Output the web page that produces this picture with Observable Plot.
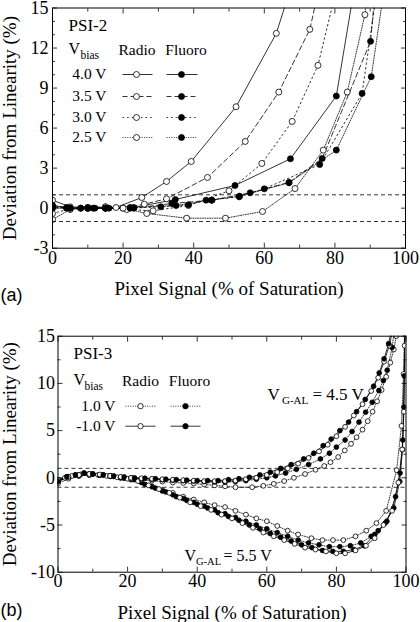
<!DOCTYPE html>
<html><head><meta charset="utf-8">
<script src="https://cdn.jsdelivr.net/npm/d3@7"></script>
<script src="https://cdn.jsdelivr.net/npm/@observablehq/plot@0.6"></script>
<style>
body{margin:0;background:#fff;}
#chart{width:420px;height:622px;position:relative;background:#fff;}
#chart svg{display:block;}
</style></head><body><div id="chart"></div>
<script>
// ---------------- Panel (a): PSI-2 ----------------
const psi2Radio40 = [[0,0.6],[5,0.1],[10,0.05],[15,0.0],[18,0.05],[25.3,0.8],[32.3,2.0],[39.3,3.5],[52,7.6],[63.4,13.1],[67.5,16.5]];
const psi2Radio35 = [[0,0.2],[5,0.0],[10,0.0],[15,0.05],[20,0.0],[26,0.3],[32.3,0.7],[43.9,2.3],[54.6,5.0],[64.1,8.7],[72.9,13.4],[75.5,16.5]];
const psi2Radio30 = [[0,-0.4],[5,-0.05],[10,0.05],[15,0.1],[21,-0.1],[28.5,-0.2],[38.5,0.2],[50,1.3],[59.3,3.35],[67.9,6.5],[75.2,10.7],[80.5,16.5]];
const psi2Radio25 = [[0,-0.85],[5,-0.1],[10,0.0],[15,0.1],[20,0.0],[26.7,-0.4],[38,-0.75],[49,-0.75],[59.5,-0.25],[68.7,1.47],[76.7,4.35],[83.5,8.7],[88.5,14.5],[89.5,16.5]];
const psi2Fluoro40 = [[0,0.2],[4,0.05],[8,0.0],[11.5,0.0],[15,0.0],[23,0.05],[34.8,0.65],[51.7,1.7],[67.4,3.7],[80.4,8.4],[85.5,16.5]];
const psi2Fluoro35 = [[0,0.1],[4,0.0],[8,0.0],[12,0.0],[16,0.0],[23,0.0],[33.8,0.35],[45.2,0.6],[56,1.15],[67,1.93],[76.4,3.72],[90.1,12.5],[91.5,16.5]];
const psi2Fluoro30 = [[0,0.05],[5,0.0],[10,0.0],[15,0.0],[22,0.0],[30.7,0.1],[38.5,0.25],[43.5,0.6],[52.9,0.85],[60,1.45],[75.7,3.27],[87.7,8.6],[92,16.5]];
const psi2Fluoro25 = [[0,0.0],[5,0.0],[10,0.0],[15,0.0],[22,0.05],[35,0.2],[45,0.6],[53,0.9],[67,1.9],[80.4,4.35],[90.3,9.85],[94,16.5]];
const psi2BiasLabels = ["4.0 V","3.5 V","3.0 V","2.5 V"];
const psi2XTicks = [0,20,40,60,80,100];
const psi2XMinor = [10,30,50,70,90];
const psi2YTicks = [-3,0,3,6,9,12,15];
const psi2YMinor = [-2,-1,1,2,4,5,7,8,10,11,13,14];

// ---------------- Panel (b): PSI-3 ----------------
// V_G-AL = 5.5 V (lower group)
const psi3LowRadioM1 = [[0,-0.3],[2,0],[4,0.2],[6.5,0.35],[9,0.4],[11.5,0.3],[14,0.2],[17,0.05],[20,-0.1],[23,-0.35],[26,-0.8],[29,-1.2],[32,-1.6],[35,-2.1],[38,-2.6],[41,-3.0],[44,-3.4],[47,-3.9],[50,-4.3],[53,-4.8],[56,-5.3],[59,-5.8],[62,-6.2],[65,-6.6],[68,-7.0],[71,-7.4],[74,-7.6],[77,-7.8],[80,-8.0],[82.5,-8.0],[85.5,-7.7],[88.5,-7.2],[91,-6.4],[93.5,-5.0],[96,-3.5],[97.8,-0.5],[98.9,3.0],[99.4,7.0],[99.6,14.0],[99.7,16]];
const psi3LowFluoroM1 = [[0,-0.5],[2.5,0.1],[5,0.3],[7.5,0.5],[10,0.4],[13,0.3],[16,0.15],[19,-0.05],[22,-0.2],[25,-0.7],[28,-1.1],[31,-1.5],[34,-2.0],[37,-2.4],[40,-2.8],[43,-3.2],[46,-3.7],[49,-4.1],[52,-4.5],[55,-5.0],[58,-5.4],[61,-5.9],[64,-6.3],[67,-6.7],[70,-7.1],[73,-7.4],[76,-7.7],[79,-7.8],[82,-7.8],[85,-7.6],[88,-7.2],[91,-6.0],[94,-4.8],[96.5,-3.2],[98.2,-0.4],[99,3.0],[99.5,10.8],[99.7,16]];
const psi3LowFluoroP1 = [[0,-0.2],[3,0.1],[6,0.3],[9,0.4],[12,0.3],[15,0.2],[18,0.05],[21,-0.15],[24,-0.5],[27,-0.95],[30,-1.4],[33,-1.8],[36,-2.2],[39,-2.6],[42,-3.0],[45,-3.4],[48,-3.8],[51,-4.2],[54,-4.6],[57,-5.0],[60,-5.4],[63,-5.8],[66,-6.2],[69,-6.6],[72,-6.9],[75,-7.1],[78,-7.3],[81,-7.3],[84,-7.2],[87,-6.9],[90,-6.2],[92,-5.6],[94.5,-4.6],[97,-2.0],[98.3,0.5],[99.1,4.0],[99.4,7.5],[99.7,16]];
const psi3LowRadioP1 = [[0,-0.3],[3,0.0],[6,0.2],[9,0.3],[12,0.3],[15,0.2],[18,0.0],[21,-0.2],[24,-0.45],[27,-0.9],[30,-1.3],[33,-1.6],[36,-2.0],[39,-2.3],[42,-2.6],[45,-2.9],[48,-3.1],[51,-3.5],[54,-3.9],[57,-4.3],[60,-4.6],[63,-5.1],[66,-5.6],[69,-6.0],[72.8,-6.4],[76,-6.6],[79,-6.6],[82,-6.6],[85.5,-6.2],[88.6,-5.6],[91.5,-4.8],[94.3,-3.5],[97.3,0.8],[98.7,5.5],[99.3,11],[99.6,16]];
// V_G-AL = 4.5 V (upper group)
const psi3UpFluoroM1 = [[0,-0.4],[2.5,0.1],[5,0.3],[7.5,0.5],[10,0.4],[13,0.3],[16,0.2],[19,0.1],[22,0.0],[25,-0.05],[28,-0.1],[31,-0.15],[34,-0.2],[37,-0.25],[40,-0.3],[43,-0.3],[46,-0.3],[49,-0.2],[52,-0.1],[55,0.05],[58,0.3],[61,0.6],[64,1.0],[67,1.4],[70.6,2.0],[73.5,2.6],[76.2,3.4],[78.5,4.1],[81,5.0],[83.5,5.9],[85.8,7.0],[88.3,8.3],[90.7,9.7],[92.3,11.1],[93.7,12.6],[95,14.2],[96,16]];
const psi3UpRadioM1 = [[0,-0.2],[3,0.1],[6,0.3],[9,0.4],[12,0.35],[15,0.2],[18,0.1],[21,0.0],[24,-0.05],[27,-0.1],[30,-0.15],[33,-0.2],[36,-0.25],[39,-0.3],[42,-0.35],[45,-0.35],[48,-0.35],[51,-0.3],[54,-0.15],[57,0.0],[60,0.3],[63,0.6],[66,1.0],[69,1.5],[72,2.1],[75,2.8],[77.5,3.5],[80,4.4],[82.5,5.4],[85,6.6],[87.5,7.8],[90,9.2],[92,10.6],[93.7,12.3],[95.2,14.0],[96.4,16]];
const psi3UpFluoroP1 = [[0,-0.3],[3,0.1],[6,0.3],[9,0.4],[12,0.3],[15,0.2],[18,0.05],[21,0.0],[24,-0.1],[27,-0.15],[30,-0.2],[33,-0.25],[36,-0.3],[39,-0.35],[42,-0.4],[45,-0.45],[48,-0.45],[51,-0.4],[54,-0.3],[57,-0.15],[60,0.0],[62.5,0.2],[65.4,0.5],[68.5,0.9],[72,1.4],[75.4,2.0],[78,2.6],[80,3.25],[82.5,4.0],[84.5,4.9],[86.5,5.9],[88.4,6.95],[90.3,8.0],[92.2,9.25],[93.5,10.3],[94.6,11.4],[96,13.8],[96.8,16]];
const psi3UpRadioP1 = [[0,-0.6],[3,-0.1],[6,0.2],[9,0.3],[12,0.3],[15,0.15],[18,0.0],[21,-0.1],[24,-0.2],[27,-0.3],[30,-0.4],[33,-0.5],[36,-0.55],[39,-0.6],[42,-0.7],[45,-0.8],[48,-0.9],[51,-1.0],[55.8,-1.0],[59,-0.85],[62,-0.64],[65,-0.35],[67.8,0.0],[71,0.4],[74,0.85],[76.5,1.25],[78.3,1.65],[80.5,2.2],[82.4,2.9],[84.2,3.6],[85.8,4.3],[87.5,5.1],[89,6.0],[90.4,7.0],[91.7,8.1],[93,9.3],[94.3,10.7],[95.5,12.2],[96.5,13.6],[97.2,15.0],[97.6,16]];
const psi3BiasLabels = ["1.0 V","-1.0 V"];
const psi3XTicks = [0,20,40,60,80,100];
const psi3XMinor = [10,30,50,70,90];
const psi3YTicks = [-10,-5,0,5,10,15];
const psi3YMinor = [-7.5,-2.5,2.5,7.5,12.5];

const linearityBand = [1,-1];

// ---------------- styles / layout ----------------
const SERIF = "'Liberation Serif', 'Times New Roman', Times, serif";
const SANS = "'Liberation Sans', Arial, sans-serif";
const SVG_STYLE = `font-family: ${SERIF}; font-size: 17px; background: white; color: black; overflow: visible;`;
const DASH = {solid: null, dashed: "5,3", dotdash: "1.6,3", dotted: "1,1.4"};

function frameTicks(xMajor, xMinor, yMajor, yMinor) {
  const M = 5, m = 3, sw = 0.8;
  const common = {tickFormat: () => "", label: null, strokeWidth: sw, stroke: "black"};
  return [
    Plot.axisX(xMajor, {...common, anchor: "bottom", tickSize: M, dy: -M}),
    Plot.axisX(xMinor, {...common, anchor: "bottom", tickSize: m, dy: -m}),
    Plot.axisX(xMajor, {...common, anchor: "top", tickSize: M, dy: M}),
    Plot.axisX(xMinor, {...common, anchor: "top", tickSize: m, dy: m}),
    Plot.axisY(yMajor, {...common, anchor: "left", tickSize: M, dx: M}),
    Plot.axisY(yMinor, {...common, anchor: "left", tickSize: m, dx: m}),
    Plot.axisY(yMajor, {...common, anchor: "right", tickSize: M, dx: -M}),
    Plot.axisY(yMinor, {...common, anchor: "right", tickSize: m, dx: -m})
  ];
}

function seriesMarks(list, r) {
  const out = [];
  for (const s of list) {
    out.push(Plot.line(s.data, {x: d => d[0], y: d => d[1], stroke: "black", strokeWidth: 0.8, strokeDasharray: s.dash, clip: true}));
  }
  for (const s of list) {
    out.push(Plot.dot(s.data, {x: d => d[0], y: d => d[1], r, fill: s.fill, stroke: "black", strokeWidth: 0.8, clip: true}));
  }
  return out;
}

// ---------------- Panel (a) ----------------
const A = {left: 52, right: 15, top: 7.5, bottom: 52.3, height: 300};
const Aw = 420 - A.left - A.right, Ah = A.height - A.top - A.bottom;
const ax = px => (px - A.left) / Aw * 100;
const ay = py => 15 - (py - A.top) / Ah * 18;

const psi2Series = [
  {data: psi2Radio40, dash: DASH.solid, fill: "white"},
  {data: psi2Radio35, dash: DASH.dashed, fill: "white"},
  {data: psi2Radio30, dash: DASH.dotdash, fill: "white"},
  {data: psi2Radio25, dash: DASH.dotted, fill: "white"},
  {data: psi2Fluoro40, dash: DASH.solid, fill: "black"},
  {data: psi2Fluoro35, dash: DASH.dashed, fill: "black"},
  {data: psi2Fluoro30, dash: DASH.dotdash, fill: "black"},
  {data: psi2Fluoro25, dash: DASH.dotted, fill: "black"}
];
const psi2Dashes = [DASH.solid, DASH.dashed, DASH.dotdash, DASH.dotted];
const psi2RowY = [74, 96, 117, 137];
const legA = psi2BiasLabels.map((lab, i) => ({lab, y: ay(psi2RowY[i]), dash: psi2Dashes[i]}));

const legendAMarks = [
  Plot.text(["PSI-2"], {x: ax(68), y: ay(25), textAnchor: "start", fontSize: 17}),
  Plot.text(["V"], {x: ax(68), y: ay(48), textAnchor: "start", fontSize: 16}),
  Plot.text(["bias"], {x: ax(80), y: ay(55), textAnchor: "start", fontSize: 11.5}),
  Plot.text(["Radio"], {x: ax(136.5), y: ay(50), fontSize: 15.5}),
  Plot.text(["Fluoro"], {x: ax(185.5), y: ay(50), fontSize: 15.5}),
  Plot.text(legA, {x: ax(106), y: d => d.y, text: d => d.lab, textAnchor: "end", fontSize: 15.5}),
  ...legA.map(d => Plot.link([d], {x1: ax(122), x2: ax(152), y1: d.y, y2: d.y, stroke: "black", strokeWidth: 0.8, strokeDasharray: d.dash})),
  ...legA.map(d => Plot.link([d], {x1: ax(166), x2: ax(197), y1: d.y, y2: d.y, stroke: "black", strokeWidth: 0.8, strokeDasharray: d.dash})),
  Plot.dot(legA, {x: ax(136), y: d => d.y, r: 3, fill: "white", stroke: "black", strokeWidth: 0.8}),
  Plot.dot(legA, {x: ax(181), y: d => d.y, r: 3, fill: "black", stroke: "black", strokeWidth: 0.8})
];

const plotA = Plot.plot({
  width: 420, height: A.height,
  marginLeft: A.left, marginRight: A.right, marginTop: A.top, marginBottom: A.bottom,
  style: SVG_STYLE,
  x: {domain: [0, 100], label: null},
  y: {domain: [-3, 15], label: null},
  marks: [
    Plot.ruleY(linearityBand, {stroke: "black", strokeWidth: 0.8, strokeDasharray: "4,3"}),
    ...seriesMarks(psi2Series, 3),
    ...legendAMarks,
    Plot.frame({stroke: "black", strokeWidth: 1}),
    ...frameTicks(psi2XTicks, psi2XMinor, psi2YTicks, psi2YMinor),
    Plot.axisX(psi2XTicks, {anchor: "bottom", tickSize: 0, tickPadding: 3, tickFormat: d => String(d), label: null, fontSize: 18}),
    Plot.axisY(psi2YTicks, {anchor: "left", tickSize: 0, tickPadding: 4, tickFormat: d => String(d), label: null, fontSize: 18}),
    Plot.text(["Deviation from Linearity (%)"], {frameAnchor: "left", rotate: -90, dx: -43, textAnchor: "middle", lineAnchor: "middle", fontSize: 19}),
    Plot.text(["Pixel Signal (% of Saturation)"], {frameAnchor: "bottom", dy: 46.3, textAnchor: "middle", lineAnchor: "bottom", fontSize: 19}),
    Plot.text(["(a)"], {frameAnchor: "bottom-left", dx: -A.left, dy: 47.5, textAnchor: "start", lineAnchor: "middle", fontFamily: SANS, fontSize: 18})
  ]
});

// ---------------- Panel (b) ----------------
const B = {left: 57.5, right: 14.5, top: 35.7, bottom: 50.3, height: 322};
const Bw = 420 - B.left - B.right, Bh = B.height - B.top - B.bottom;
const bx = px => (px - B.left) / Bw * 100;
const by = py => 15 - (py - B.top) / Bh * 25;

const psi3Series = [
  {data: psi3LowRadioP1, dash: DASH.dotted, fill: "white"},
  {data: psi3LowFluoroP1, dash: DASH.dotted, fill: "black"},
  {data: psi3LowFluoroM1, dash: DASH.solid, fill: "black"},
  {data: psi3LowRadioM1, dash: DASH.solid, fill: "white"},
  {data: psi3UpRadioP1, dash: DASH.dotted, fill: "white"},
  {data: psi3UpFluoroP1, dash: DASH.dotted, fill: "black"},
  {data: psi3UpRadioM1, dash: DASH.solid, fill: "white"},
  {data: psi3UpFluoroM1, dash: DASH.solid, fill: "black"}
];
const psi3Dashes = [DASH.dotted, DASH.solid];
const psi3RowY = [105.7, 125.7];
const legB = psi3BiasLabels.map((lab, i) => ({lab, y: by(psi3RowY[i]), dash: psi3Dashes[i]}));

const legendBMarks = [
  Plot.text(["PSI-3"], {x: bx(73), y: by(53), textAnchor: "start", fontSize: 17}),
  Plot.text(["V"], {x: bx(73), y: by(79), textAnchor: "start", fontSize: 16}),
  Plot.text(["bias"], {x: bx(84), y: by(86), textAnchor: "start", fontSize: 11.5}),
  Plot.text(["Radio"], {x: bx(140), y: by(81), fontSize: 15.5}),
  Plot.text(["Fluoro"], {x: bx(189), y: by(81), fontSize: 15.5}),
  Plot.text(legB, {x: bx(115), y: d => d.y, text: d => d.lab, textAnchor: "end", fontSize: 15.5}),
  ...legB.map(d => Plot.link([d], {x1: bx(125), x2: bx(155), y1: d.y, y2: d.y, stroke: "black", strokeWidth: 0.8, strokeDasharray: d.dash})),
  ...legB.map(d => Plot.link([d], {x1: bx(170), x2: bx(200), y1: d.y, y2: d.y, stroke: "black", strokeWidth: 0.8, strokeDasharray: d.dash})),
  Plot.dot(legB, {x: bx(140), y: d => d.y, r: 2.7, fill: "white", stroke: "black", strokeWidth: 0.8}),
  Plot.dot(legB, {x: bx(185), y: d => d.y, r: 2.7, fill: "black", stroke: "black", strokeWidth: 0.8}),
  // V_G-AL annotations
  Plot.text(["V"], {x: bx(267), y: by(94), textAnchor: "start", fontSize: 17}),
  Plot.text(["G-AL"], {x: bx(281.5), y: by(100), textAnchor: "start", fontSize: 11}),
  Plot.text(["= 4.5 V"], {x: bx(312), y: by(94), textAnchor: "start", fontSize: 17}),
  Plot.text(["V"], {x: bx(184), y: by(255), textAnchor: "start", fontSize: 16}),
  Plot.text(["G-AL"], {x: bx(195.5), y: by(261), textAnchor: "start", fontSize: 10.5}),
  Plot.text(["= 5.5 V"], {x: bx(223), y: by(255), textAnchor: "start", fontSize: 16})
];

const plotB = Plot.plot({
  width: 420, height: B.height,
  marginLeft: B.left, marginRight: B.right, marginTop: B.top, marginBottom: B.bottom,
  style: SVG_STYLE,
  x: {domain: [0, 100], label: null},
  y: {domain: [-10, 15], label: null},
  marks: [
    Plot.ruleY(linearityBand, {stroke: "black", strokeWidth: 0.8, strokeDasharray: "4,3"}),
    ...seriesMarks(psi3Series, 2.4),
    ...legendBMarks,
    Plot.frame({stroke: "black", strokeWidth: 1}),
    ...frameTicks(psi3XTicks, psi3XMinor, psi3YTicks, psi3YMinor),
    Plot.axisX(psi3XTicks, {anchor: "bottom", tickSize: 0, tickPadding: 2, tickFormat: d => String(d), label: null, fontSize: 18}),
    Plot.axisY(psi3YTicks, {anchor: "left", tickSize: 0, tickPadding: 3, tickFormat: d => String(d), label: null, fontSize: 18}),
    Plot.text(["Deviation from Linearity (%)"], {frameAnchor: "left", rotate: -90, dx: -48.5, textAnchor: "middle", lineAnchor: "middle", fontSize: 19}),
    Plot.text(["Pixel Signal (% of Saturation)"], {frameAnchor: "bottom", dy: 46.3, textAnchor: "middle", lineAnchor: "bottom", fontSize: 19}),
    Plot.text(["(b)"], {frameAnchor: "bottom-left", dx: -B.left, dy: 38.5, textAnchor: "start", lineAnchor: "middle", fontFamily: SANS, fontSize: 18})
  ]
});

const chart = document.getElementById("chart");
chart.appendChild(plotA);
chart.appendChild(plotB);
</script></body></html>
